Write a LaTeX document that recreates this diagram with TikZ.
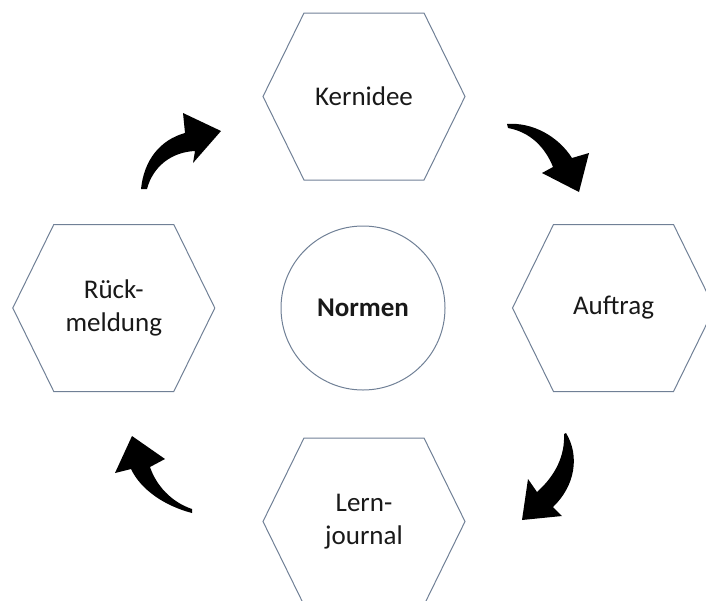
\documentclass[tikz,border=0pt]{standalone}
\usepackage{fontspec}
\setmainfont{Carlito}
\usetikzlibrary{shapes}
\definecolor{outline}{RGB}{112,128,150}
\definecolor{ink}{RGB}{25,25,25}

\begin{document}
\begin{tikzpicture}[x=1pt, y=-1pt,
	hexline/.style={draw=outline, line width=1pt, line join=miter},
	lbl/.style={text=ink, font=\fontsize{27}{33}\selectfont, align=center, inner sep=0pt},
	bentarrow/.style={fill=black, draw=none}]
	\useasboundingbox (0,0) rectangle (706,600);
	\clip (0,0) rectangle (706,600);
	% draw the four hexagons with their labels
	\foreach \name/\x/\y/\t in {kern/364/96.5/Kernidee, auft/613.5/308/Auftrag, lern/364/521.5/{Lern-\\journal}, rueck/113.8/308/{Rück-\\meldung}} {
		\node[lbl] (\name) at (\x,\y) {\t};
		\draw[hexline] (\name.center) ++(-101,0) -- ++(41,-83.5) -- ++(120,0) -- ++(41,83.5) -- ++(-41,83.5) -- ++(-120,0) -- cycle;
	}
	% draw the circle in the middle
	\node[lbl, circle, draw=outline, line width=1pt, minimum size=164pt, font=\fontsize{27}{33}\selectfont\bfseries] (norm) at (363,308) {Normen};
	% draw the curved block arrows
	\fill[bentarrow] (141,189) .. controls (144,160) and (160,140) .. (185,133) -- (183,113) -- (221,131) -- (193,163) -- (195,151) .. controls (172,152) and (153,166) .. (147,189) -- cycle;
	\fill[bentarrow] (507,124) .. controls (532,122) and (558,136) .. (572,158) -- (589,153) -- (579,192) -- (542,173) -- (553,167) .. controls (545,147) and (530,132) .. (508,128) -- cycle;
	\fill[bentarrow] (566,433) .. controls (580,456) and (575,486) .. (553,507) -- (562,516) -- (522,520) -- (528,479) -- (537,492) .. controls (556,475) and (565,455) .. (564,434) -- cycle;
	\fill[bentarrow] (192,513) .. controls (165,506) and (141,490) .. (131,469) -- (115,473) -- (132,436) -- (165,459) -- (150,467) .. controls (156,485) and (171,502) .. (192,509) -- cycle;
\end{tikzpicture}
\end{document}
